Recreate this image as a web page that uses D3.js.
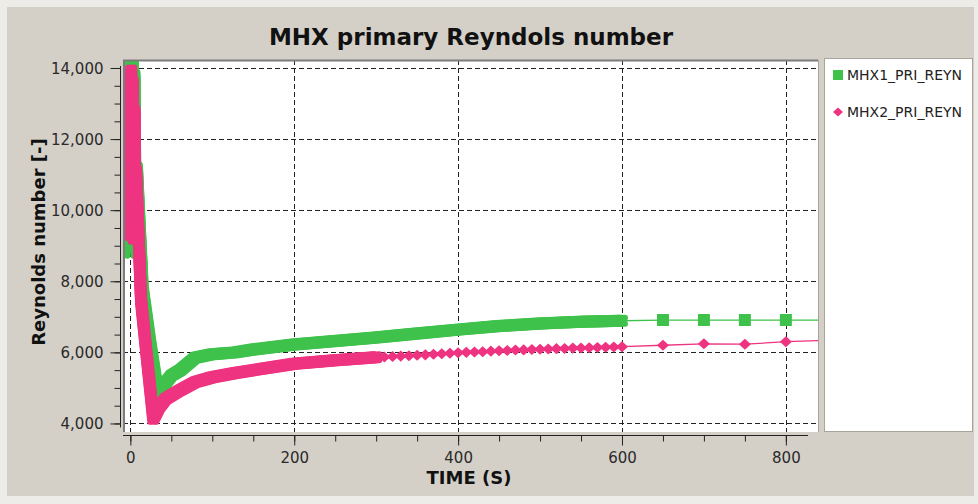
<!DOCTYPE html>
<meta charset="utf-8">
<style>
body { margin: 0; background: #eeece8; }
svg { display: block; font-family: 'DejaVu Sans', sans-serif; }
.grid line { stroke: #222; stroke-width: 1; stroke-dasharray: 5,3; }
.axis text { font-size: 15px; fill: #2a2a2a; font-family: 'DejaVu Sans', sans-serif; }
.axis line { stroke: #222; }
.axis path { display: none; }
</style>
<svg width="978" height="504"></svg>
<script src="https://d3js.org/d3.v7.min.js"></script>
<script>

// ---- data ----
var timeMhx1 = [0, 1, 2, 3, 4, 5, 6, 8, 15, 24, 34, 43, 50, 61, 79, 100, 128, 150, 200, 250,
                300, 350, 400, 450, 500, 550, 600, 650, 700, 750, 800, 850];
var mhx1Reyn = [8800, 14400, 10300, 14400, 9200, 13800, 10800, 11200, 7800, 6300, 4800, 5140, 5350, 5500, 5850, 5950, 6000, 6080, 6220, 6320,
                6420, 6530, 6640, 6740, 6810, 6860, 6890, 6910, 6910, 6910, 6910, 6910];

var timeMhx2 = [0, 1, 2, 3, 4, 5, 6, 7, 13, 20, 28, 35, 43, 61, 79, 100, 128, 150, 200, 250, 300,
                310, 320, 330, 340, 350, 360, 370, 380, 390, 400, 410, 420, 430, 440, 450,
                460, 470, 480, 490, 500, 510, 520, 530, 540, 550, 560, 570, 580, 590, 600,
                650, 700, 750, 800, 850];
var mhx2Reyn = [9300, 13930, 12200, 13600, 9200, 12800, 10000, 11100, 7470, 5900, 4130, 4450, 4690, 4940, 5165, 5300, 5420, 5500, 5680, 5780, 5860,
                5870, 5885, 5895, 5905, 5920, 5930, 5945, 5960, 5975, 5990, 6000, 6010, 6020, 6035, 6045,
                6055, 6065, 6070, 6080, 6090, 6095, 6105, 6110, 6120, 6125, 6130, 6140, 6145, 6150, 6160,
                6200, 6240, 6230, 6300, 6340];

// time up to which the solver wrote output every step (markers merge into a band)
var denseUntil = [600, 300];

var seriesNames = ["MHX1_PRI_REYN", "MHX2_PRI_REYN"];
var seriesColors = ["#3fc24b", "#ee3380"];

var xMajor = [0, 200, 400, 600, 800];
var xMinor = d3.range(0, 801, 50);
var yMajor = [4000, 6000, 8000, 10000, 12000, 14000];
var yMinor = d3.range(4000, 14001, 500);

// ---- layout ----
var svg = d3.select("svg");
var plot = { left: 123, right: 818, top: 60, bottom: 432 };

var x = d3.scaleLinear().domain([-9, 838]).range([123, 817]);
var y = d3.scaleLinear().domain([3760, 14225]).range([plot.bottom, plot.top]);

svg.append("rect").attr("x", 7).attr("y", 7).attr("width", 967).attr("height", 489).attr("fill", "#d4d0c8");

// plot background + legend box
svg.append("rect").attr("x", plot.left).attr("y", plot.top)
  .attr("width", plot.right - plot.left).attr("height", plot.bottom - plot.top).attr("fill", "#fff");
svg.append("rect").attr("x", 824.5).attr("y", 58.5).attr("width", 148).attr("height", 373)
  .attr("fill", "#fff").attr("stroke", "#a8a49c");

svg.append("clipPath").attr("id", "clip").append("rect")
  .attr("x", plot.left).attr("y", plot.top)
  .attr("width", plot.right - plot.left).attr("height", plot.bottom - plot.top);

// grid
var grid = svg.append("g").attr("class", "grid");
grid.selectAll(".gx").data(xMajor).enter().append("line")
  .attr("x1", function(d) { return Math.round(x(d)) + 0.5; })
  .attr("x2", function(d) { return Math.round(x(d)) + 0.5; })
  .attr("y1", plot.top).attr("y2", plot.bottom);
grid.selectAll(".gy").data(yMajor).enter().append("line")
  .attr("y1", function(d) { return Math.round(y(d)) + 0.5; })
  .attr("y2", function(d) { return Math.round(y(d)) + 0.5; })
  .attr("x1", plot.left).attr("x2", plot.right);

// series
var series = [
  { t: timeMhx1, v: mhx1Reyn },
  { t: timeMhx2, v: mhx2Reyn }
].map(function(s, i) {
  return {
    points: s.t.map(function(t, j) { return { t: t, v: s.v[j] }; }),
    dense: denseUntil[i],
    color: seriesColors[i],
    shape: i
  };
});

var line = d3.line().x(function(d) { return x(d.t); }).y(function(d) { return y(d.v); });
var plotG = svg.append("g").attr("clip-path", "url(#clip)");

// thin connecting lines
series.forEach(function(s) {
  plotG.append("path").datum(s.points)
    .attr("fill", "none").attr("stroke", s.color).attr("stroke-width", 1.3)
    .attr("d", line);
});

// dense marker bands: square-ish brush made of a wide stroke plus corner copies
var brush = [[0, 0, 12], [3, 3, 6], [-3, 3, 6], [3, -3, 6], [-3, -3, 6]];
series.forEach(function(s) {
  var pts = s.points.filter(function(d) { return d.t <= s.dense; });
  brush.forEach(function(b) {
    plotG.append("path").datum(pts)
      .attr("transform", "translate(" + b[0] + "," + b[1] + ")")
      .attr("fill", "none").attr("stroke", s.color).attr("stroke-width", b[2])
      .attr("stroke-linejoin", "round").attr("stroke-linecap", b[0] ? "round" : "butt")
      .attr("d", line);
  });
});

function markerPath(shape, r) {
  if (shape === 0) return "M" + (-r) + "," + (-r) + "H" + r + "V" + r + "H" + (-r) + "Z";
  return "M0," + (-r * 0.92) + "L" + r + ",0L0," + (r * 0.92) + "L" + (-r) + ",0Z";
}

series.forEach(function(s) {
  plotG.selectAll(null).data(s.points.filter(function(d) { return d.t > s.dense; }))
    .enter().append("path")
    .attr("transform", function(d) { return "translate(" + x(d.t) + "," + y(d.v) + ")"; })
    .attr("d", markerPath(s.shape, 6))
    .attr("fill", s.color);
});

// plot frame (lowered bevel)
svg.append("line").attr("x1", plot.left).attr("x2", plot.right).attr("y1", plot.top + 0.5).attr("y2", plot.top + 0.5)
  .attr("stroke", "#7c7c7c").attr("stroke-width", 2);
svg.append("line").attr("x1", plot.left + 1).attr("x2", plot.left + 1).attr("y1", plot.top).attr("y2", plot.bottom)
  .attr("stroke", "#7c7c7c").attr("stroke-width", 2);
svg.append("line").attr("x1", plot.right + 0.5).attr("x2", plot.right + 0.5).attr("y1", plot.top).attr("y2", plot.bottom)
  .attr("stroke", "#a8a49c");

// y axis
var yAxisG = svg.append("g").attr("class", "axis").attr("transform", "translate(120.5,0)");
yAxisG.call(d3.axisLeft(y).tickValues(yMinor).tickSize(6).tickFormat(""));
yAxisG.append("g").call(d3.axisLeft(y).tickValues(yMajor).tickSize(10).tickPadding(7).tickFormat(d3.format(",")));
yAxisG.selectAll("text").attr("dy", "0.35em");
yAxisG.append("line").attr("y1", y(14000) - 2).attr("y2", y(4000) + 4);

// x axis
var xAxisG = svg.append("g").attr("class", "axis").attr("transform", "translate(0,435.5)");
xAxisG.call(d3.axisBottom(x).tickValues(xMinor).tickSize(6).tickFormat(""));
xAxisG.append("g").call(d3.axisBottom(x).tickValues(xMajor).tickSize(10).tickPadding(7).tickFormat(d3.format("d")));
xAxisG.append("line").attr("x1", x(-9)).attr("x2", x(827));

// titles
svg.append("text").attr("x", 471).attr("y", 45).attr("text-anchor", "middle")
  .style("font-size", "23px").style("font-weight", "bold").attr("fill", "#111")
  .text("MHX primary Reyndols number");
svg.append("text").attr("x", 469).attr("y", 484).attr("text-anchor", "middle")
  .style("font-size", "18px").style("font-weight", "bold").attr("fill", "#111")
  .text("TIME (S)");
svg.append("text").attr("transform", "translate(45,242) rotate(-90)").attr("text-anchor", "middle")
  .style("font-size", "18px").style("font-weight", "bold").attr("fill", "#111")
  .text("Reynolds number [-]");

// legend
var legend = svg.append("g").selectAll("g").data(series).enter().append("g")
  .attr("transform", function(d, i) { return "translate(838," + (75 + i * 37) + ")"; });
legend.append("path").attr("d", function(d) { return markerPath(d.shape, 5); })
  .attr("fill", function(d) { return d.color; });
legend.append("text").attr("x", 9).attr("dy", "0.36em")
  .style("font-size", "14px").attr("fill", "#222")
  .text(function(d, i) { return seriesNames[i]; });
</script>
